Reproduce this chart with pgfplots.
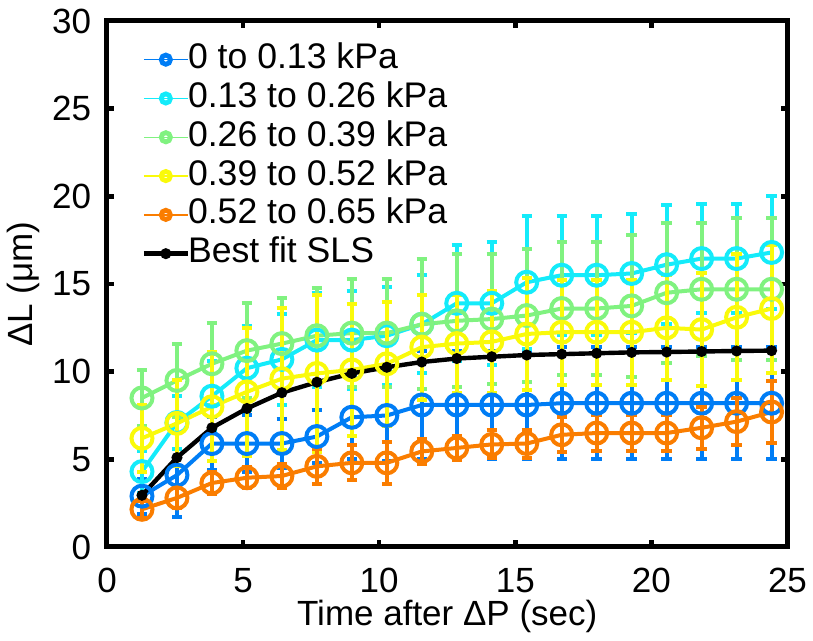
\documentclass[border=0pt]{standalone}
\usepackage{fontspec}
\setmainfont{Liberation Sans}
\usepackage{pgfplots}
\pgfplotsset{compat=1.18}
\usepackage{pgfplotstable}

\definecolor{cblue}{RGB}{0,125,245}
\definecolor{ccyan}{RGB}{20,235,250}
\definecolor{cgreen}{RGB}{128,242,128}
\definecolor{cyellow}{RGB}{250,250,10}
\definecolor{corange}{RGB}{250,125,0}

\newcommand\ff{\fontsize{17.5pt}{20pt}\selectfont}
\newcommand\lf{\fontsize{17.8pt}{20pt}\selectfont}

\pgfplotstableread{
x y e
1.285 2.9 1.0
2.57 4.1 2.4
3.855 5.9 1.5
5.14 5.9 1.6
6.425 5.9 1.4
7.71 6.3 1.5
8.995 7.4 2.4
10.28 7.5 2.6
11.565 8.1 3.1
12.85 8.1 3.1
14.135 8.1 3.1
15.42 8.1 3.1
16.705 8.2 3.2
17.99 8.2 3.2
19.275 8.2 3.2
20.56 8.2 3.2
21.845 8.2 3.2
23.13 8.2 3.2
24.415 8.2 3.2
}\tblue

\pgfplotstableread{
x y e
1.285 4.3 1.2
2.57 7.1 1.5
3.855 8.6 2.0
5.14 10.2 2.4
6.425 10.7 2.6
7.71 11.8 2.7
8.995 11.8 2.8
10.28 12.05 2.8
11.565 12.7 2.8
12.85 13.9 3.3
14.135 13.9 3.5
15.42 15.1 3.8
16.705 15.5 3.4
17.99 15.5 3.4
19.275 15.6 3.4
20.56 16.1 3.4
21.845 16.45 3.1
23.13 16.45 3.1
24.415 16.8 3.2
}\tcyan

\pgfplotstableread{
x y e
1.285 8.5 1.6
2.57 9.5 2.1
3.855 10.45 2.35
5.14 11.2 2.7
6.425 11.6 2.6
7.71 12.05 2.75
8.995 12.2 3.1
10.28 12.2 3.1
11.565 12.7 3.7
12.85 12.9 3.8
14.135 13.0 3.7
15.42 13.2 3.8
16.705 13.6 3.8
17.99 13.6 3.8
19.275 13.75 4.05
20.56 14.5 4.0
21.845 14.7 3.8
23.13 14.7 4.05
24.415 14.7 4.05
}\tgreen

\pgfplotstableread{
x y e
1.285 6.2 1.9
2.57 7.05 2.45
3.855 8.0 3.1
5.14 8.85 3.65
6.425 9.6 4.05
7.71 9.9 4.5
8.995 10.1 3.75
10.28 10.45 3.55
11.565 11.4 3.0
12.85 11.6 2.8
14.135 11.7 2.9
15.42 12.15 3.2
16.705 12.25 3.0
17.99 12.25 3.0
19.275 12.25 3.0
20.56 12.5 3.0
21.845 12.4 3.2
23.13 13.1 3.6
24.415 13.6 3.65
}\tyellow

\pgfplotstableread{
x y e
1.285 2.15 0.5
2.57 2.8 0.6
3.855 3.65 0.6
5.14 3.95 0.6
6.425 4.05 0.7
7.71 4.6 1.0
8.995 4.8 1.0
10.28 4.8 1.2
11.565 5.45 0.7
12.85 5.65 0.7
14.135 5.85 0.8
15.42 5.9 0.8
16.705 6.4 1.0
17.99 6.5 1.0
19.275 6.5 1.0
20.56 6.5 1.0
21.845 6.8 1.2
23.13 7.15 1.35
24.415 7.7 1.75
}\torange

\pgfplotstableread{
x y
1.285 2.95
2.57 5.1
3.855 6.8
5.14 7.9
6.425 8.8
7.71 9.4
8.995 9.9
10.28 10.25
11.565 10.55
12.85 10.75
14.135 10.85
15.42 10.95
16.705 11.0
17.99 11.05
19.275 11.1
20.56 11.12
21.845 11.15
23.13 11.18
24.415 11.2
}\tsls

\begin{document}
\begin{tikzpicture}
\begin{axis}[
  scale only axis,
  width=340.25pt, height=263pt,
  xmin=0, xmax=25, ymin=0, ymax=30,
  xtick={0,5,...,25}, ytick={0,5,...,30},
  tick align=inside,
  major tick length=3.5pt,
  tick style={line width=2.2pt, black},
  axis line style={line width=2.5pt},
  /pgf/number format/assume math mode=true,
  ticklabel style={font=\ff},
  xticklabel style={anchor=north, inner sep=0pt, yshift=-10.5pt},
  yticklabel style={anchor=east, inner sep=0pt, xshift=-7.8pt},
  every axis x label/.style={at={(axis description cs:0.5,0)}, anchor=north, inner sep=0pt, yshift=-26.5pt, font=\ff},
  every axis y label/.style={at={(axis description cs:-0.1102,0.5)}, rotate=90, anchor=base, inner sep=0pt, font=\ff},
  xlabel={Time after ΔP (sec)},
  ylabel={ΔL (μm)},
  legend cell align=left,
  legend style={draw=none, fill=none, inner sep=0pt, outer sep=0pt,
    at={(axis description cs:0.0509,0.955)}, anchor=north west,
    font=\lf, row sep=4.4pt, column sep=-1pt,
    nodes={inner sep=0pt, outer sep=0pt, text height=12pt, text depth=3pt}},
  legend image code/.code={
    \draw[#1, line width=0.7pt, mark=none] (0pt,0pt) -- (22pt,0pt);
    \draw[#1, mark size=2.3pt, mark options={line width=2.4pt, solid}] plot coordinates {(11pt,0pt)};
  },
  error bars/y dir=both,
  error bars/y explicit,
  error bars/error bar style={line width=2pt},
  error bars/error mark options={rotate=90, line width=2pt, mark size=2.6pt},
  every axis plot/.append style={line width=2pt},
]
\addplot[color=cblue, mark=o, mark size=5.25pt, mark options={line width=2pt}] table[x=x, y=y, y error=e] {\tblue};
\addlegendentry{0 to 0.13 kPa}
\addplot[color=ccyan, mark=o, mark size=5.25pt, mark options={line width=2pt}] table[x=x, y=y, y error=e] {\tcyan};
\addlegendentry{0.13 to 0.26 kPa}
\addplot[color=cgreen, mark=o, mark size=5.25pt, mark options={line width=2pt}] table[x=x, y=y, y error=e] {\tgreen};
\addlegendentry{0.26 to 0.39 kPa}
\addplot[color=cyellow, mark=o, mark size=5.25pt, mark options={line width=2pt}] table[x=x, y=y, y error=e] {\tyellow};
\addlegendentry{0.39 to 0.52 kPa}
\addplot[color=corange, mark=o, mark size=5.25pt, mark options={line width=2pt}] table[x=x, y=y, y error=e] {\torange};
\addlegendentry{0.52 to 0.65 kPa}
\addplot[black, line width=2.2pt, mark=*, mark size=1.6pt, error bars/y dir=none,
  legend image code/.code={
    \draw[black, line width=2.2pt] (0pt,0pt) -- (22pt,0pt);
    \fill[black] (11pt,0pt) circle (1.6pt);
  }] table[x=x, y=y] {\tsls};
\addlegendentry{Best fit SLS}
\end{axis}
\pgfresetboundingbox
\path[use as bounding box] ([shift={(-53.5pt,-47pt)}]current axis.south west) rectangle ([shift={(12.75pt,10.5pt)}]current axis.north east);
\end{tikzpicture}
\end{document}
